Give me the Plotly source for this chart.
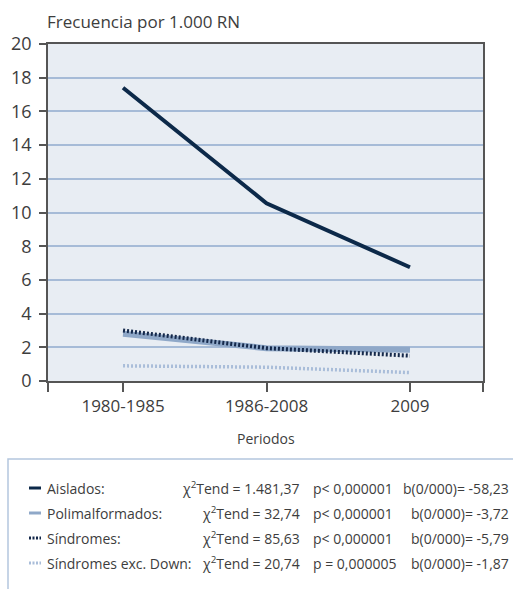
import plotly.graph_objects as go

periods = ["1980-1985", "1986-2008", "2009"]
aislados = [17.4, 10.55, 6.75]
polimalformados = [2.8, 1.95, 1.85]
sindromes = [3.0, 1.95, 1.5]
sindromes_exc_down = [0.9, 0.82, 0.5]
y_ticks = [0, 2, 4, 6, 8, 10, 12, 14, 16, 18, 20]

legend_names = ["Aislados:", "Polimalformados:", "Síndromes:", "Síndromes exc. Down:"]
chi_texts = ["χ<sup>2</sup>Tend = 1.481,37", "χ<sup>2</sup>Tend = 32,74",
             "χ<sup>2</sup>Tend = 85,63", "χ<sup>2</sup>Tend = 20,74"]
p_texts = ["p< 0,000001", "p< 0,000001", "p< 0,000001", "p = 0,000005"]
b_texts = ["b(0/000)= -58,23", "b(0/000)= -3,72", "b(0/000)= -5,79", "b(0/000)= -1,87"]

W, H = 513, 589
L, R, T, B = 48, 30, 44, 208
pw, ph = W - L - R, H - T - B

def px(x):
    return (x - L) / pw

def py(y):
    return (H - B - y) / ph

FONT = "Open Sans"
TXT = "#3d3d3d"
AX = "#555555"

styles = [
    dict(color="#0c2949", width=4, dash="solid"),
    dict(color="#8fa8c8", width=6, dash="solid"),
    dict(color="#14284a", width=4, dash="2px,2px"),
    dict(color="#a9bdd9", width=3.5, dash="2px,2px"),
]
series = [aislados, polimalformados, sindromes, sindromes_exc_down]
draw_order = [1, 0, 3, 2]

xs = list(range(len(periods)))
fig = go.Figure()
for i in draw_order:
    fig.add_trace(go.Scatter(x=xs, y=series[i], mode="lines", line=styles[i],
                             name=legend_names[i], showlegend=False, hoverinfo="skip"))

xmin, xmax = -0.523, 2.509
fig.update_layout(
    width=W, height=H,
    margin=dict(l=L, r=R, t=T, b=B, pad=0),
    paper_bgcolor="white",
    plot_bgcolor="#e8edf3",
    font=dict(family=FONT, color=TXT),
    showlegend=False,
    xaxis=dict(range=[xmin, xmax], tickvals=xs, ticktext=periods,
               showgrid=False, zeroline=False, showline=True, mirror=True,
               linecolor=AX, linewidth=1.5, ticks="outside", ticklen=9,
               tickcolor=AX, tickwidth=1.5, tickfont=dict(size=17, color=TXT),
               minor=dict(tickvals=[xmin, xmax], ticks="outside", ticklen=9,
                          tickcolor=AX, tickwidth=1.5, showgrid=False)),
    yaxis=dict(range=[0, 20], tickvals=y_ticks, showgrid=True, gridcolor="#a6bbd7",
               gridwidth=1.5, zeroline=False, showline=True, mirror=True,
               linecolor=AX, linewidth=1.5, ticks="outside", ticklen=7,
               tickcolor=AX, tickwidth=1.5, ticklabelstandoff=4,
               tickfont=dict(size=18, color=TXT)),
)

ann = []
ann.append(dict(text="Frecuencia por 1.000 RN", x=px(45), y=py(22), xref="paper", yref="paper",
                xanchor="left", yanchor="middle", showarrow=False, font=dict(size=17, color=TXT)))
ann.append(dict(text="Periodos", x=px(266), y=py(438), xref="paper", yref="paper",
                xanchor="center", yanchor="middle", showarrow=False, font=dict(size=14, color=TXT)))

shapes = []
shapes.append(dict(type="rect", xref="paper", yref="paper", x0=px(8), x1=px(530),
                   y0=py(459), y1=py(600), line=dict(color="#b4c6de", width=1.5),
                   fillcolor="rgba(0,0,0,0)"))
row_y = [488, 513, 538, 563]
for i in range(4):
    s = styles[i]
    shapes.append(dict(type="line", xref="paper", yref="paper", x0=px(29), x1=px(41),
                       y0=py(row_y[i]), y1=py(row_y[i]),
                       line=dict(color=s["color"], width=min(s["width"], 3),
                                 dash="2px,1.5px" if s["dash"] != "solid" else "solid")))
    ann.append(dict(text=legend_names[i], x=px(45), y=py(row_y[i]), xref="paper", yref="paper",
                    xanchor="left", yanchor="middle", showarrow=False, font=dict(size=14, color=TXT)))
    ann.append(dict(text=chi_texts[i], x=px(302), y=py(row_y[i]), xref="paper", yref="paper",
                    xanchor="right", yanchor="middle", showarrow=False, font=dict(size=14, color=TXT)))
    ann.append(dict(text=p_texts[i], x=px(311), y=py(row_y[i]), xref="paper", yref="paper",
                    xanchor="left", yanchor="middle", showarrow=False, font=dict(size=14, color=TXT)))
    ann.append(dict(text=b_texts[i], x=px(511), y=py(row_y[i]), xref="paper", yref="paper",
                    xanchor="right", yanchor="middle", showarrow=False, font=dict(size=14, color=TXT)))

fig.update_layout(annotations=ann, shapes=shapes)
fig.write_html("out.html")
